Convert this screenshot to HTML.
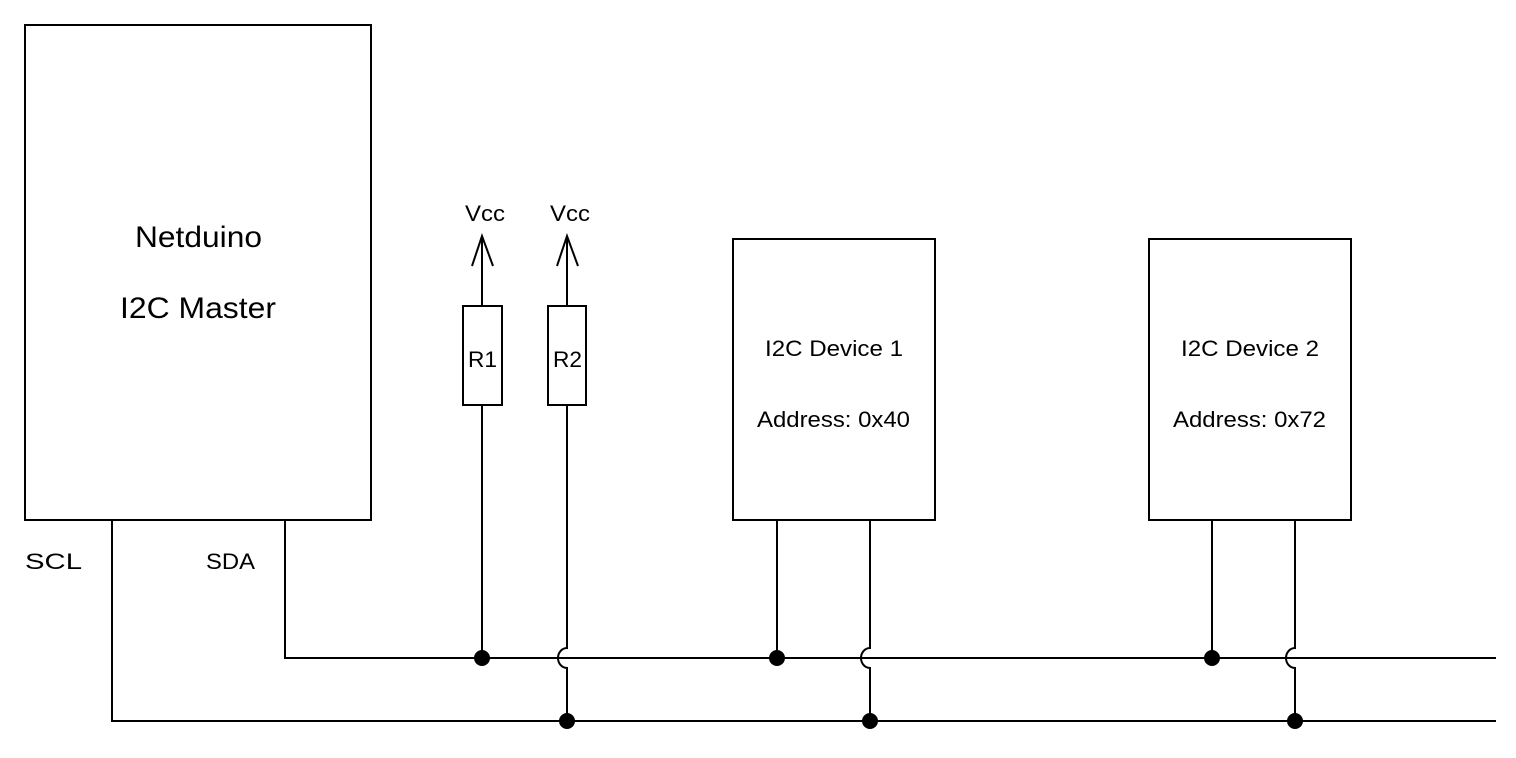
<!DOCTYPE html>
<html><head><style>body{margin:0;background:#fff}svg{display:block}text{font-family:"Liberation Sans",Arial,sans-serif;fill:#000}</style></head>
<body>
<svg width="1516" height="758" viewBox="0 0 1516 758" xmlns="http://www.w3.org/2000/svg">
<g stroke="#000" stroke-width="2" fill="none">
<rect x="25" y="25" width="346" height="495"/>
<rect x="733" y="239" width="202" height="281"/>
<rect x="1149" y="239" width="202" height="281"/>
<rect x="463" y="306" width="39" height="99"/>
<rect x="548" y="306" width="38" height="99"/>
<path d="M482 306V236M472 266L482 236L493 266"/>
<path d="M567 306V236M557 266L567 236L578 266"/>
<path d="M285 520V658H1496"/>
<path d="M482 405V658"/>
<path d="M777 520V658"/>
<path d="M1212 520V658"/>
<path d="M112 520V721H1496"/>
<path d="M567 405V648A9 10 0 0 0 567 668V721"/>
<path d="M870 520V648A9 10 0 0 0 870 668V721"/>
<path d="M1295 520V648A9 10 0 0 0 1295 668V721"/>
</g>
<g fill="#000">
<circle cx="482" cy="658" r="8"/>
<circle cx="777" cy="658" r="8"/>
<circle cx="1212" cy="658" r="8"/>
<circle cx="567" cy="721" r="8"/>
<circle cx="870" cy="721" r="8"/>
<circle cx="1295" cy="721" r="8"/>
</g>
<text x="135" y="247" font-size="30" textLength="127" lengthAdjust="spacingAndGlyphs">Netduino</text>
<text x="120" y="318" font-size="30" textLength="156" lengthAdjust="spacingAndGlyphs">I2C Master</text>
<text x="765" y="356" font-size="22" textLength="138" lengthAdjust="spacingAndGlyphs">I2C Device 1</text>
<text x="757" y="427" font-size="22" textLength="153" lengthAdjust="spacingAndGlyphs">Address: 0x40</text>
<text x="1181" y="356" font-size="22" textLength="138" lengthAdjust="spacingAndGlyphs">I2C Device 2</text>
<text x="1173" y="427" font-size="22" textLength="153" lengthAdjust="spacingAndGlyphs">Address: 0x72</text>
<text x="468" y="367" font-size="22" textLength="29" lengthAdjust="spacingAndGlyphs">R1</text>
<text x="553" y="367" font-size="22" textLength="29" lengthAdjust="spacingAndGlyphs">R2</text>
<text x="465" y="221" font-size="22" textLength="40" lengthAdjust="spacingAndGlyphs">Vcc</text>
<text x="550" y="221" font-size="22" textLength="40" lengthAdjust="spacingAndGlyphs">Vcc</text>
<text x="25" y="569" font-size="22" textLength="57" lengthAdjust="spacingAndGlyphs">SCL</text>
<text x="206" y="569" font-size="22" textLength="49" lengthAdjust="spacingAndGlyphs">SDA</text>
</svg>
</body></html>
